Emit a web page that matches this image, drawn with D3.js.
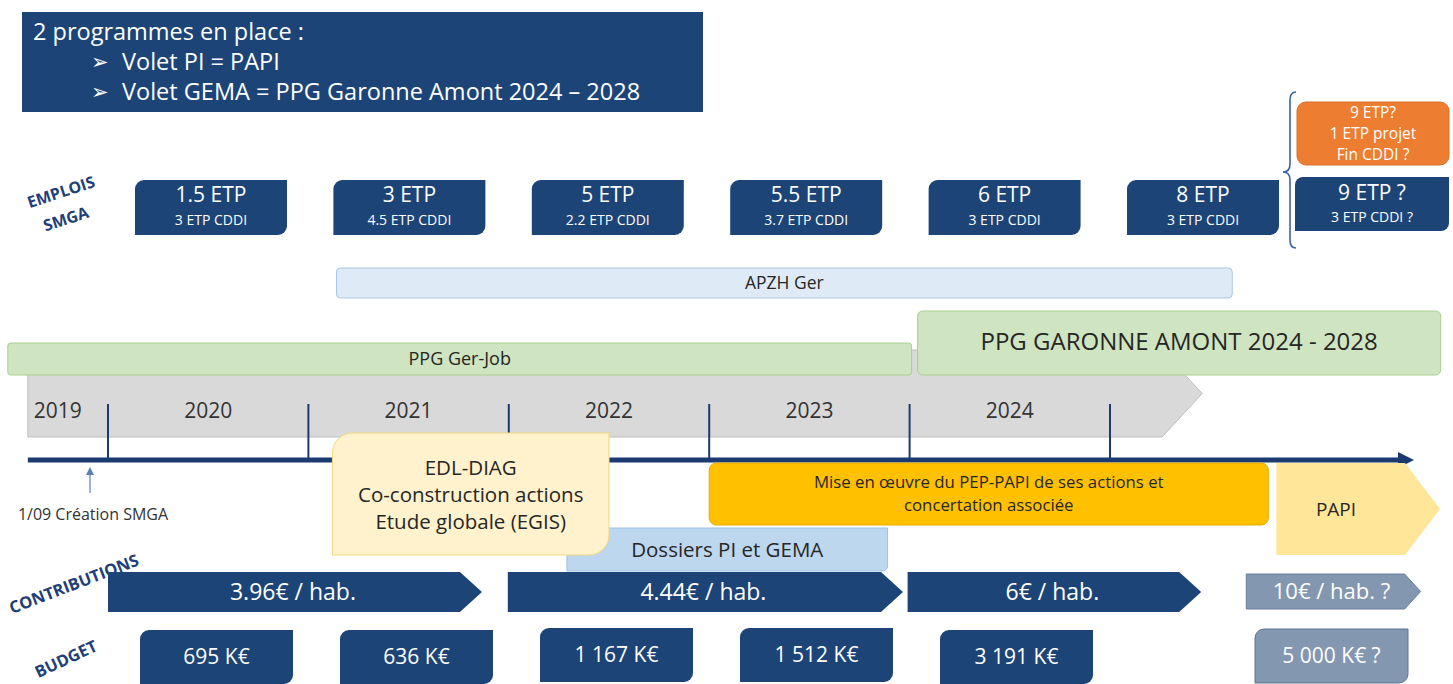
<!DOCTYPE html>
<html><head><meta charset="utf-8">
<script src="https://cdn.jsdelivr.net/npm/d3@7"></script>
<style>
html,body{margin:0;padding:0;background:#fff;}
svg{display:block;font-family:"Open Sans",sans-serif;}
</style></head>
<body>
<svg id="c" width="1453" height="684"></svg>
<script>
// ---------- DATA ----------
const years = [2019, 2020, 2021, 2022, 2023, 2024];
const yearBoundaries = [2020, 2021, 2022, 2023, 2024, 2025];
const titleLines = ["2 programmes en place :", "Volet PI = PAPI", "Volet GEMA = PPG Garonne Amont 2024 – 2028"];
const etpMain = ["1.5 ETP", "3 ETP", "5 ETP", "5.5 ETP", "6 ETP", "8 ETP"];
const etpCddi = ["3 ETP CDDI", "4.5 ETP CDDI", "2.2 ETP CDDI", "3.7 ETP CDDI", "3 ETP CDDI", "3 ETP CDDI"];
const etpFutureMain = "9 ETP ?";
const etpFutureCddi = "3 ETP CDDI ?";
const etpAltLines = ["9 ETP?", "1 ETP projet", "Fin CDDI ?"];
const contributions = ["3.96€ / hab.", "4.44€ / hab.", "6€ / hab.", "10€ / hab. ?"];
const budgets = ["695 K€", "636 K€", "1 167 K€", "1 512 K€", "3 191 K€", "5 000 K€ ?"];
const edlLines = ["EDL-DIAG", "Co-construction actions", "Etude globale (EGIS)"];
const miseLines = ["Mise en œuvre du PEP-PAPI de ses actions et", "concertation associée"];

// ---------- LAYOUT ----------
const svg = d3.select("#c");
const x = d3.scaleLinear().domain([2020, 2025]).range([108, 1110]);
const NAVY = "#1d4477", GREYBLUE = "#8497b0", TXT = "#262626";

function rdRect(x0, y0, w, h, r) {
  return `M${x0 + r},${y0} H${x0 + w} V${y0 + h - r} A${r},${r} 0 0 1 ${x0 + w - r},${y0 + h} H${x0} V${y0 + r} A${r},${r} 0 0 1 ${x0 + r},${y0} Z`;
}
function roundRect(x0, y0, w, h, r) {
  return `M${x0 + r},${y0} H${x0 + w - r} A${r},${r} 0 0 1 ${x0 + w},${y0 + r} V${y0 + h - r} A${r},${r} 0 0 1 ${x0 + w - r},${y0 + h} H${x0 + r} A${r},${r} 0 0 1 ${x0},${y0 + h - r} V${y0 + r} A${r},${r} 0 0 1 ${x0 + r},${y0} Z`;
}
function pent(x0, x1, y0, y1, d) {
  const ym = (y0 + y1) / 2;
  return `M${x0},${y0} H${x1 - d} L${x1},${ym} L${x1 - d},${y1} H${x0} Z`;
}
function label(g, txt, cx, cy, size, fill, anchor) {
  return g.append("text").attr("x", cx).attr("y", cy).attr("dy", "0.35em")
    .attr("text-anchor", anchor || "middle").attr("font-size", size).attr("fill", fill).text(txt);
}

// Title box
svg.append("rect").attr("x", 22).attr("y", 12).attr("width", 681).attr("height", 100).attr("fill", NAVY);
const tg = svg.append("g");
titleLines.forEach((t, i) => {
  if (i === 0) label(tg, t, 33, 32, 23.5, "#fff", "start");
  else {
    label(tg, "➢", 91, 32 + i * 30, 21, "#fff", "start");
    label(tg, t, 122, 32 + i * 30, 23.5, "#fff", "start");
  }
});

// Rotated row labels
function rotLabel(t, cx, cy, size, ang) {
  svg.append("text").attr("transform", `translate(${cx},${cy}) rotate(${ang})`)
    .attr("dy", "0.35em").attr("text-anchor", "middle").attr("font-size", size)
    .attr("font-weight", "bold").attr("fill", "#1f3f7a").text(t);
}
rotLabel("EMPLOIS", 61, 192, 16, -18);
rotLabel("SMGA", 66, 219, 16, -18);
rotLabel("CONTRIBUTIONS", 74, 584, 16.5, -21);
rotLabel("BUDGET", 66, 659, 16.5, -25);

// ETP boxes
const etpBand = d3.scaleBand().domain(d3.range(etpMain.length)).range([135, 1279]).paddingInner(0.234);
const eg = svg.append("g");
etpMain.forEach((t, i) => {
  const bx = etpBand(i), w = etpBand.bandwidth();
  eg.append("path").attr("d", rdRect(bx, 180, w, 55, 9)).attr("fill", NAVY);
  label(eg, t, bx + w / 2, 195, 21, "#fff");
  label(eg, etpCddi[i], bx + w / 2, 220, 14, "#fff");
});
// future column
const fx = 1295, fw = 154;
eg.append("path").attr("d", rdRect(fx, 177, fw, 54, 8)).attr("fill", NAVY);
label(eg, etpFutureMain, fx + fw / 2, 193, 21, "#fff");
label(eg, etpFutureCddi, fx + fw / 2, 217, 14, "#fff");
eg.append("path").attr("d", roundRect(1297, 102, 152, 63, 9)).attr("fill", "#ed7d31").attr("stroke", "#d9702a");
etpAltLines.forEach((t, i) => label(eg, t, 1373, 113 + i * 21, 15.5, "#fff"));
// bracket
svg.append("path")
  .attr("d", "M1296,92 Q1290,92 1290,100 V164 Q1290,172 1283,172 Q1290,172 1290,180 V240 Q1290,248 1296,248")
  .attr("fill", "none").attr("stroke", "#3c64a0").attr("stroke-width", 1.6);

// APZH bar
const bg = svg.append("g");
bg.append("path").attr("d", roundRect(x(2021.14), 268, x(2025.61) - x(2021.14), 30, 4))
  .attr("fill", "#deebf7").attr("stroke", "#a9c5e3");
label(bg, "APZH Ger", (x(2021.14) + x(2025.61)) / 2, 283, 17.5, TXT);

// Grey timeline band (drawn behind green bars)
bg.append("path").attr("d", pent(x(2019.6), x(2025.46), 350, 437, 40))
  .attr("fill", "#d9d9d9").attr("stroke", "#bfbfbf");

// Green bars
bg.append("path").attr("d", roundRect(x(2019.5), 343, x(2024.01) - x(2019.5), 32, 3))
  .attr("fill", "#cfe4c0").attr("stroke", "#a9cf90");
label(bg, "PPG Ger-Job", (x(2019.5) + x(2024.01)) / 2, 359, 18, TXT);
bg.append("path").attr("d", roundRect(x(2024.04), 311, x(2026.65) - x(2024.04), 64, 5))
  .attr("fill", "#cfe4c0").attr("stroke", "#a9cf90");
label(bg, "PPG GARONNE AMONT 2024 - 2028", (x(2024.04) + x(2026.65)) / 2, 342, 24, TXT);

// Year labels
const yg = svg.append("g");
years.forEach(yv => {
  if (yv === 2019) label(yg, String(yv), x(2019.6) + 6, 411, 21, "#333", "start");
  else label(yg, String(yv), x(yv + 0.5), 411, 21, "#333");
});

// Tick lines
yg.selectAll("line.tick").data(yearBoundaries).join("line")
  .attr("x1", d => x(d)).attr("x2", d => x(d)).attr("y1", 404).attr("y2", 460)
  .attr("stroke", "#1a3a70").attr("stroke-width", 2);

// Main axis with arrow
yg.append("line").attr("x1", x(2019.6)).attr("x2", 1400).attr("y1", 460).attr("y2", 460)
  .attr("stroke", "#1a3a70").attr("stroke-width", 5);
yg.append("path").attr("d", "M1398,452 L1414,460 L1398,468 Z").attr("fill", "#1a3a70");

// Création SMGA marker
yg.append("line").attr("x1", 90).attr("x2", 90).attr("y1", 470).attr("y2", 493).attr("stroke", "#5b7fb5").attr("stroke-width", 1.2);
yg.append("path").attr("d", "M86,475 L90,467 L94,475 Z").attr("fill", "#5b7fb5");
label(yg, "1/09 Création SMGA", 93, 514, 16, "#333");

// Dossiers box (behind EDL box)
const ag = svg.append("g");
ag.append("path").attr("d", rdRect(x(2022.29), 528, x(2023.89) - x(2022.29), 43, 5))
  .attr("fill", "#bdd7ee").attr("stroke", "#9dc3e6");
label(ag, "Dossiers PI et GEMA", (x(2022.29) + x(2023.89)) / 2, 550, 20.5, TXT);

// EDL box
ag.append("path").attr("d", rdRect(x(2021.12), 433, x(2022.5) - x(2021.12), 122, 20))
  .attr("fill", "#fff2cc").attr("stroke", "#f5d77e");
edlLines.forEach((t, i) => label(ag, t, (x(2021.12) + x(2022.5)) / 2, 468 + i * 27, 20.5, TXT));

// Mise en oeuvre box
ag.append("path").attr("d", roundRect(x(2023), 463, x(2025.79) - x(2023), 62, 7))
  .attr("fill", "#ffc000").attr("stroke", "#e8ad00");
miseLines.forEach((t, i) => label(ag, t, (x(2023) + x(2025.79)) / 2, 482 + i * 23, 16.8, TXT));

// PAPI shape
ag.append("path").attr("d", pent(x(2025.83), 1440, 463, 555, 35)).attr("fill", "#ffe699");
label(ag, "PAPI", 1336, 509, 19, TXT);

// Contributions arrows
const contribSpans = [[2020, 2021.866], [2021.995, 2023.967], [2023.99, 2025.455], [2025.68, 2026.55]];
const cg = svg.append("g");
contributions.forEach((t, i) => {
  const [a, b] = contribSpans[i];
  const last = i === contributions.length - 1;
  const y0 = last ? 574 : 572, y1 = last ? 609 : 612;
  cg.append("path").attr("d", pent(x(a), x(b), y0, y1, last ? 16 : 22))
    .attr("fill", last ? GREYBLUE : NAVY).attr("stroke", last ? "#6a7f9c" : "none");
  label(cg, t, (x(a) + x(b)) / 2 - 2, (y0 + y1) / 2, last ? 22 : 23, "#fff");
});

// Budget boxes
const budBand = d3.scaleBand().domain(d3.range(5)).range([140, 1093]).paddingInner(0.235);
const budTop = [630, 630, 628, 628, 630];
const dg = svg.append("g");
budgets.forEach((t, i) => {
  let bx, w, top, fill = NAVY, stroke = "none";
  if (i < 5) { bx = budBand(i); w = budBand.bandwidth(); top = budTop[i]; }
  else { bx = 1255; w = 153; top = 629; fill = GREYBLUE; stroke = "#5f7594"; }
  dg.append("path").attr("d", rdRect(bx, top, w, 54, 9)).attr("fill", fill).attr("stroke", stroke);
  label(dg, t, bx + w / 2, top + 27, 21, "#fff");
});
</script>
</body></html>
